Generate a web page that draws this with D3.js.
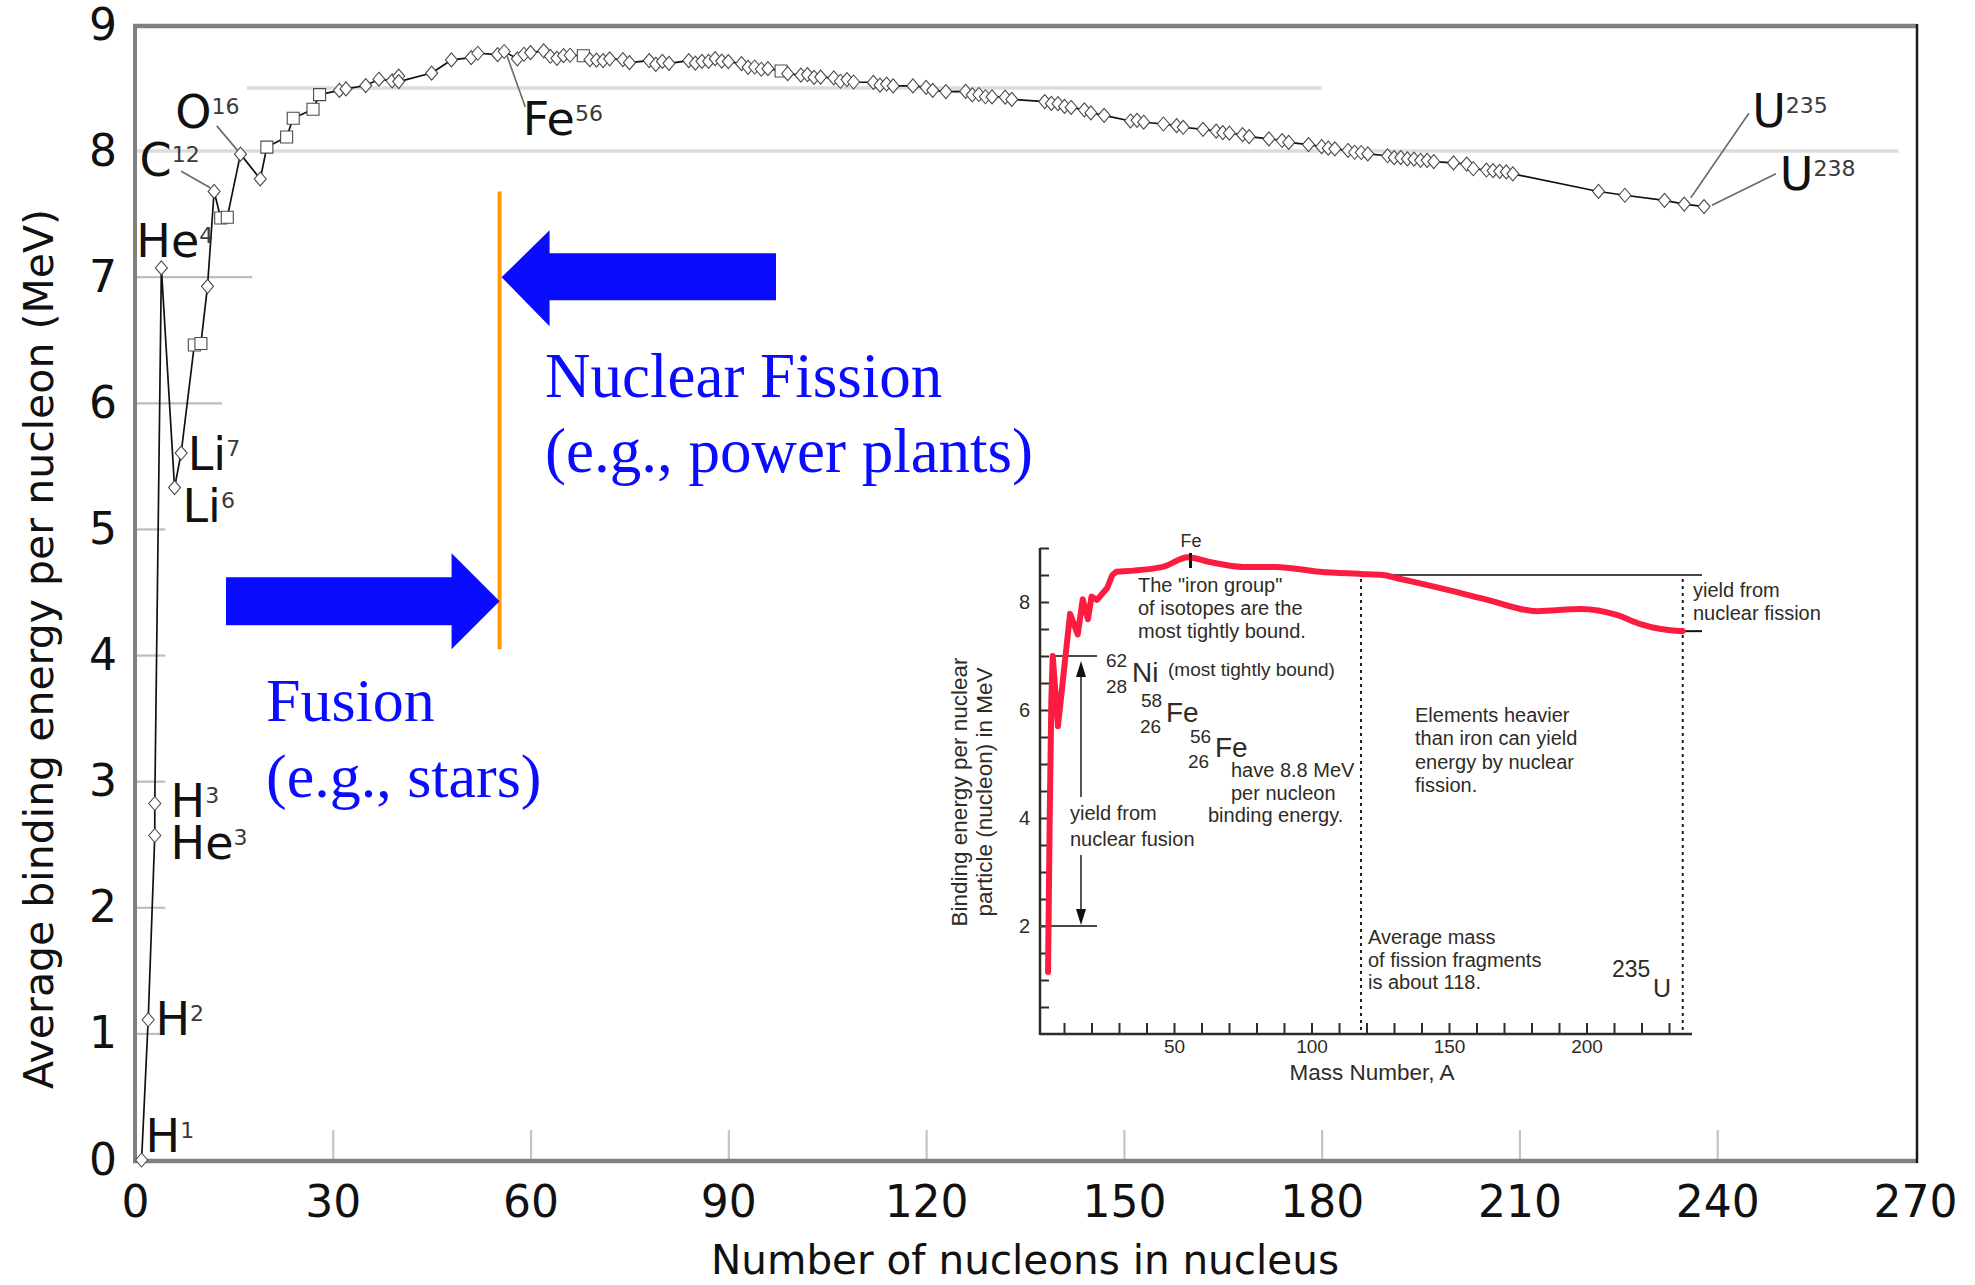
<!DOCTYPE html>
<html>
<head>
<meta charset="utf-8">
<script src="https://cdn.jsdelivr.net/npm/d3@7"></script>
<style>
  html, body { margin: 0; padding: 0; background: #fff; }
  svg { display: block; }
</style>
</head>
<body>
<div id="chart"></div>
<script>
// ── Isotopes: [mass number A, average binding energy per nucleon (MeV)] ──
const isotopes = [
  [1, 0.000], [2, 1.112], [3, 2.573], [3, 2.827], [4, 7.074], [6, 5.332], [7, 5.606],
  [9, 6.463], [10, 6.475], [11, 6.928], [12, 7.680], [13, 7.470], [14, 7.476], [16, 7.976],
  [19, 7.779], [20, 8.032], [23, 8.112], [24, 8.261], [27, 8.332], [28, 8.448], [31, 8.481],
  [32, 8.493], [35, 8.520], [37, 8.570], [39, 8.557], [40, 8.595], [40, 8.551], [45, 8.619],
  [48, 8.723], [51, 8.742], [52, 8.776], [55, 8.765], [56, 8.790], [58, 8.732], [59, 8.768],
  [60, 8.781], [62, 8.795], [63, 8.752], [64, 8.736], [65, 8.757], [66, 8.760], [68, 8.756],
  [69, 8.725], [70, 8.722], [71, 8.718], [72, 8.732], [74, 8.725], [75, 8.701], [78, 8.718],
  [79, 8.688], [80, 8.711], [81, 8.696], [84, 8.717], [85, 8.697], [86, 8.712], [87, 8.711],
  [88, 8.733], [89, 8.714], [90, 8.710], [92, 8.693], [93, 8.664], [94, 8.667], [95, 8.649],
  [96, 8.654], [98, 8.635], [99, 8.614], [101, 8.602], [102, 8.607], [103, 8.584], [104, 8.587],
  [106, 8.580], [107, 8.554], [108, 8.567], [109, 8.548], [112, 8.545], [113, 8.523], [114, 8.532],
  [115, 8.517], [118, 8.517], [120, 8.505], [121, 8.482], [123, 8.472], [126, 8.473], [127, 8.446],
  [128, 8.449], [129, 8.431], [130, 8.430], [132, 8.428], [133, 8.410], [138, 8.393], [139, 8.378],
  [140, 8.376], [141, 8.354], [142, 8.346], [144, 8.327], [145, 8.303], [147, 8.284], [151, 8.239],
  [152, 8.244], [153, 8.229], [156, 8.215], [158, 8.202], [159, 8.189], [162, 8.173], [164, 8.159],
  [165, 8.147], [166, 8.142], [168, 8.130], [169, 8.115], [172, 8.097], [174, 8.084], [175, 8.069],
  [178, 8.052], [180, 8.035], [181, 8.023], [182, 8.018], [184, 8.005], [185, 7.991], [186, 7.989],
  [187, 7.978], [190, 7.963], [191, 7.948], [192, 7.949], [193, 7.938], [194, 7.936], [195, 7.927],
  [196, 7.927], [197, 7.916], [200, 7.906], [202, 7.897], [203, 7.860], [205, 7.850], [206, 7.845],
  [207, 7.840], [208, 7.835], [209, 7.820], [222, 7.680], [226, 7.650], [232, 7.610], [235, 7.580],
  [238, 7.560]
];

// isotopes drawn with a square marker instead of a diamond
const squareMarkers = [9, 10, 13, 14, 20, 23, 24, 27, 28, 68, 98];

// ── Axes ─────────────────────────────────────────────────────────────────
const xTicks = [0, 30, 60, 90, 120, 150, 180, 210, 240, 270];
const yTicks = [0, 1, 2, 3, 4, 5, 6, 7, 8, 9];
// horizontal grey rules: level, from A, to A
const gridLevels = [1, 2, 3, 4, 5, 6, 7, 8, 8.5];
const gridFrom = [0, 0, 0, 0, 0, 0, 0, 0, 17];
const gridTo = [3.9, 4.6, 4.6, 4.6, 4.6, 13.2, 17.8, 267.5, 180];

// ── Element labels: symbol, mass, text position (A, MeV), leader (A, MeV → A, MeV) ──
const labelSymbol = ["H", "H", "H", "He", "He", "Li", "Li", "C", "O", "Fe", "U", "U"];
const labelMass = ["1", "2", "3", "3", "4", "6", "7", "12", "16", "56", "235", "238"];
const labelAt = [[1.6, 0.06], [3.1, 0.99], [5.4, 2.72], [5.4, 2.39], [0.2, 7.16], [7.2, 5.06],
                 [8.0, 5.47], [0.7, 7.80], [6.1, 8.18], [58.8, 8.13], [245.3, 8.19], [249.5, 7.69]];
const leaders = [
  [[7.0, 7.84], [11.4, 7.71]],
  [[12.4, 8.20], [15.8, 7.99]],
  [[56.4, 8.76], [59.2, 8.35]],
  [[236.0, 7.63], [244.8, 8.30]],
  [[239.2, 7.57], [248.9, 7.82]]
];

// ── Inset (binding energy curve, mass number A) ──────────────────────────
const insetMass = [4.2, 4.8, 5.4, 5.9, 7.8, 12.2, 15, 16.8, 18.7, 20, 22, 25.7, 27.6, 29, 46, 55,
                   63, 75, 87, 103, 118, 126, 132, 145, 164, 182, 198, 211, 219, 227, 235];
const insetBinding = [1.15, 4.0, 6.2, 7.0, 5.7, 7.78, 7.4, 8.05, 7.68, 8.1, 8.04, 8.26, 8.5, 8.56,
                      8.65, 8.83, 8.74, 8.65, 8.65, 8.56, 8.52, 8.5, 8.43, 8.28, 8.04, 7.83, 7.87,
                      7.76, 7.6, 7.5, 7.46];
const insetXTicks = d3.range(10, 231, 10);
const insetYTicks = d3.range(0.5, 9.01, 0.5);

// ── Canvas ───────────────────────────────────────────────────────────────
const width = 1975;
const height = 1285;
const SANS = "'DejaVu Sans', sans-serif";
const HELV = "'Liberation Sans', Arial, sans-serif";
const SERIF = "'Liberation Serif', 'Times New Roman', serif";
const BLUE = "#0a0cff";

const svg = d3.select("#chart")
  .append("svg")
  .attr("width", width)
  .attr("height", height)
  .attr("viewBox", [0, 0, width, height]);

const x = d3.scaleLinear().domain([0, 270]).range([135, 1915]);
const y = d3.scaleLinear().domain([0, 9]).range([1160, 25]);

// ── Grey rules ───────────────────────────────────────────────────────────
svg.append("g")
  .selectAll("line")
  .data(gridLevels)
  .join("line")
  .attr("x1", (d, i) => x(gridFrom[i]))
  .attr("x2", (d, i) => x(gridTo[i]))
  .attr("y1", d => y(d))
  .attr("y2", d => y(d))
  .attr("stroke", d => d >= 8 ? "#dcdcdc" : "#bdbdbd")
  .attr("stroke-width", d => d >= 8 ? 3.5 : 2.2);

// ── x axis ───────────────────────────────────────────────────────────────
const gx = svg.append("g")
  .attr("transform", `translate(0,${y(0)})`)
  .call(d3.axisBottom(x).tickValues(xTicks).tickSize(-30).tickPadding(26).tickSizeOuter(0));
gx.select(".domain").remove();
gx.selectAll(".tick line")
  .attr("stroke", "#c4c4c4")
  .attr("stroke-width", 2.2)
  .attr("opacity", d => (d === 0 || d === 270) ? 0 : 1);
gx.selectAll(".tick text")
  .attr("font-family", SANS)
  .attr("font-size", 44)
  .attr("fill", "#111");

// ── y axis ───────────────────────────────────────────────────────────────
const gy = svg.append("g")
  .attr("transform", `translate(${x(0)},0)`)
  .call(d3.axisLeft(y).tickValues(yTicks).tickSize(0).tickPadding(18));
gy.select(".domain").remove();
gy.selectAll(".tick text")
  .attr("font-family", SANS)
  .attr("font-size", 44)
  .attr("fill", "#111");

// ── Frame ────────────────────────────────────────────────────────────────
const frame = svg.append("g");
frame.append("line")
  .attr("x1", x(0)).attr("x2", x(0)).attr("y1", y(9)).attr("y2", y(0) + 2)
  .attr("stroke", "#808080").attr("stroke-width", 4);
frame.append("line")
  .attr("x1", x(0) - 2).attr("x2", x(270) + 2).attr("y1", y(9) + 1).attr("y2", y(9) + 1)
  .attr("stroke", "#808080").attr("stroke-width", 4.5);
frame.append("line")
  .attr("x1", x(0) - 2).attr("x2", x(270) + 2).attr("y1", y(0) + 1).attr("y2", y(0) + 1)
  .attr("stroke", "#808080").attr("stroke-width", 4.5);
frame.append("line")
  .attr("x1", x(270) + 2).attr("x2", x(270) + 2).attr("y1", y(9) - 1).attr("y2", y(0) + 3)
  .attr("stroke", "#1a1a1a").attr("stroke-width", 2.5);

// ── Axis titles ──────────────────────────────────────────────────────────
svg.append("text")
  .attr("x", 1025)
  .attr("y", 1274)
  .attr("text-anchor", "middle")
  .attr("font-family", SANS)
  .attr("font-size", 40.5)
  .attr("fill", "#111")
  .text("Number of nucleons in nucleus");

svg.append("text")
  .attr("transform", "translate(53,649) rotate(-90)")
  .attr("text-anchor", "middle")
  .attr("font-family", SANS)
  .attr("font-size", 41)
  .attr("fill", "#111")
  .text("Average binding energy per nucleon (MeV)");

// ── Leader lines ─────────────────────────────────────────────────────────
svg.append("g")
  .selectAll("line")
  .data(leaders)
  .join("line")
  .attr("x1", d => x(d[0][0]))
  .attr("y1", d => y(d[0][1]))
  .attr("x2", d => x(d[1][0]))
  .attr("y2", d => y(d[1][1]))
  .attr("stroke", "#6a6a6a")
  .attr("stroke-width", 1.6);

// ── Curve + markers ──────────────────────────────────────────────────────
const line = d3.line()
  .x(d => x(d[0]))
  .y(d => y(d[1]));

svg.append("path")
  .datum(isotopes)
  .attr("d", line)
  .attr("fill", "none")
  .attr("stroke", "#111")
  .attr("stroke-width", 1.7)
  .attr("stroke-linejoin", "round");

const diamond = "M0,-7L6,0L0,7L-6,0Z";
const square = "M-6,-6H6V6H-6Z";

svg.append("g")
  .selectAll("path")
  .data(isotopes)
  .join("path")
  .attr("transform", d => `translate(${x(d[0])},${y(d[1])})`)
  .attr("d", d => squareMarkers.includes(d[0]) ? square : diamond)
  .attr("fill", "#fff")
  .attr("stroke", "#4a4a4a")
  .attr("stroke-width", 1.1);

// ── Element labels ───────────────────────────────────────────────────────
const labels = svg.append("g")
  .selectAll("text")
  .data(labelSymbol)
  .join("text")
  .attr("x", (d, i) => x(labelAt[i][0]))
  .attr("y", (d, i) => y(labelAt[i][1]))
  .attr("font-family", SANS)
  .attr("font-size", 46)
  .attr("fill", "#111");

labels.append("tspan").text(d => d);
labels.append("tspan")
  .attr("dx", 0)
  .attr("dy", -14)
  .attr("font-size", 22)
  .attr("fill", "#3a3a3a")
  .text((d, i) => labelMass[i]);

// ── Fusion / fission arrows ──────────────────────────────────────────────
const boundaryA = 55.3;
const bx = x(boundaryA);

svg.append("line")
  .attr("x1", bx).attr("x2", bx)
  .attr("y1", y(7.68)).attr("y2", y(4.05))
  .attr("stroke", "#ff9900")
  .attr("stroke-width", 4);

// fission arrow, pointing left to the boundary
const fy = y(7.0);
svg.append("path")
  .attr("d", `M${bx + 2},${fy} L${bx + 50},${fy - 47} L${bx + 50},${fy - 24} L776,${fy - 24}
              L776,${fy + 23} L${bx + 50},${fy + 23} L${bx + 50},${fy + 49} Z`)
  .attr("fill", BLUE);

// fusion arrow, pointing right to the boundary
const uy = y(4.43);
svg.append("path")
  .attr("d", `M226,${uy - 24} L${bx - 48},${uy - 24} L${bx - 48},${uy - 48} L${bx},${uy}
              L${bx - 48},${uy + 48} L${bx - 48},${uy + 24} L226,${uy + 24} Z`)
  .attr("fill", BLUE);

const blueText = [
  ["Nuclear Fission", 545, 397, 63],
  ["(e.g., power plants)", 545, 472, 63],
  ["Fusion", 266, 721, 62],
  ["(e.g., stars)", 266, 797, 62]
];
svg.append("g")
  .selectAll("text")
  .data(blueText)
  .join("text")
  .attr("x", d => d[1])
  .attr("y", d => d[2])
  .attr("font-family", SERIF)
  .attr("font-size", d => d[3])
  .attr("fill", BLUE)
  .text(d => d[0]);

// ── Inset ────────────────────────────────────────────────────────────────
const ix = d3.scaleLinear().domain([0, 240]).range([1036.5, 1696.5]);
const iy = d3.scaleLinear().domain([0, 9]).range([1034, 548]);
const INK = "#2f2b25";
const inset = svg.append("g");

// x axis of inset
const igx = inset.append("g")
  .attr("transform", `translate(0,${iy(0)})`)
  .call(d3.axisBottom(ix).tickValues(insetXTicks).tickSize(-11).tickPadding(6)
    .tickFormat(d => d % 50 === 0 ? d : ""));
igx.select(".domain").remove();
igx.selectAll(".tick line").attr("stroke", INK).attr("stroke-width", 2);
igx.selectAll(".tick text").attr("font-family", HELV).attr("font-size", 19).attr("fill", INK);

// y axis of inset
const igy = inset.append("g")
  .attr("transform", "translate(1040,0)")
  .call(d3.axisLeft(iy).tickValues(insetYTicks).tickSize(-9).tickPadding(10)
    .tickFormat(d => d % 2 === 0 ? d : ""));
igy.select(".domain").remove();
igy.selectAll(".tick line").attr("stroke", INK).attr("stroke-width", 2);
igy.selectAll(".tick text").attr("font-family", HELV).attr("font-size", 20).attr("fill", INK);

inset.append("line")
  .attr("x1", 1040).attr("x2", 1692).attr("y1", iy(0)).attr("y2", iy(0))
  .attr("stroke", INK).attr("stroke-width", 2.5);
inset.append("line")
  .attr("x1", 1040).attr("x2", 1040).attr("y1", iy(9)).attr("y2", iy(0) + 1)
  .attr("stroke", INK).attr("stroke-width", 2.5);

// guide lines
const guides = [
  [1052, iy(7.0), 1097, iy(7.0)],
  [1040, iy(2.0), 1097, iy(2.0)],
  [ix(126), iy(8.5), 1702, iy(8.5)]
];
inset.append("g")
  .selectAll("line")
  .data(guides)
  .join("line")
  .attr("x1", d => d[0]).attr("y1", d => d[1])
  .attr("x2", d => d[2]).attr("y2", d => d[3])
  .attr("stroke", "#4d483d")
  .attr("stroke-width", 2);

inset.append("line")
  .attr("x1", ix(235)).attr("x2", 1702).attr("y1", iy(7.46)).attr("y2", iy(7.46))
  .attr("stroke", "#111").attr("stroke-width", 2);

// dotted verticals at A = 118 and A = 235
inset.append("g")
  .selectAll("line")
  .data([118, 235])
  .join("line")
  .attr("x1", d => ix(d)).attr("x2", d => ix(d))
  .attr("y1", 579).attr("y2", iy(0))
  .attr("stroke", "#222")
  .attr("stroke-width", 2)
  .attr("stroke-dasharray", "3,4");

// fusion yield double arrow
const ax = 1081;
inset.append("line").attr("x1", ax).attr("x2", ax).attr("y1", 672).attr("y2", 797)
  .attr("stroke", "#5a5547").attr("stroke-width", 2);
inset.append("line").attr("x1", ax).attr("x2", ax).attr("y1", 855).attr("y2", 914)
  .attr("stroke", "#5a5547").attr("stroke-width", 2);
inset.append("path").attr("d", `M${ax},661 L${ax - 5},677 L${ax + 5},677 Z`).attr("fill", "#111");
inset.append("path").attr("d", `M${ax},925 L${ax - 5},909 L${ax + 5},909 Z`).attr("fill", "#111");

// red binding-energy curve: jagged for light nuclei, smooth beyond A = 29
const splitAt = insetMass.indexOf(29);
const insetPoints = insetMass.map((a, i) => [ix(a), iy(insetBinding[i])]);
const jagged = d3.line()(insetPoints.slice(0, splitAt + 1));
const smooth = d3.line().curve(d3.curveMonotoneX)(insetPoints.slice(splitAt));

inset.append("path")
  .attr("d", jagged + smooth.replace(/^M/, "L"))
  .attr("fill", "none")
  .attr("stroke", "#fc1c40")
  .attr("stroke-width", 6)
  .attr("stroke-linejoin", "round")
  .attr("stroke-linecap", "round");

// Fe peak tick
inset.append("line")
  .attr("x1", ix(56)).attr("x2", ix(56)).attr("y1", 553).attr("y2", 568)
  .attr("stroke", "#111").attr("stroke-width", 3);

// inset text
const insetText = [
  ["Fe", 1191, 547, 18, "middle"],
  ["The \"iron group\"", 1138, 592, 20],
  ["of isotopes are the", 1138, 615, 20],
  ["most tightly bound.", 1138, 638, 20],
  ["62", 1106, 667, 19],
  ["28", 1106, 693, 19],
  ["Ni", 1132, 682, 28],
  ["(most tightly bound)", 1168, 676, 19],
  ["58", 1141, 707, 19],
  ["26", 1140, 733, 19],
  ["Fe", 1166, 722, 28],
  ["56", 1190, 743, 19],
  ["26", 1188, 768, 19],
  ["Fe", 1215, 757, 28],
  ["have 8.8 MeV", 1231, 777, 20],
  ["per nucleon", 1231, 800, 20],
  ["binding energy.", 1208, 822, 20],
  ["yield from", 1070, 820, 20],
  ["nuclear fusion", 1070, 846, 20],
  ["Elements heavier", 1415, 722, 20],
  ["than iron can yield", 1415, 745, 20],
  ["energy by nuclear", 1415, 769, 20],
  ["fission.", 1415, 792, 20],
  ["Average mass", 1368, 944, 20],
  ["of fission fragments", 1368, 967, 20],
  ["is about 118.", 1368, 989, 20],
  ["yield from", 1693, 597, 20],
  ["nuclear fission", 1693, 620, 20],
  ["235", 1612, 977, 23],
  ["U", 1653, 997, 25],
  ["Mass Number, A", 1372, 1080, 22.5, "middle"]
];
inset.append("g")
  .selectAll("text")
  .data(insetText)
  .join("text")
  .attr("x", d => d[1])
  .attr("y", d => d[2])
  .attr("font-size", d => d[3])
  .attr("text-anchor", d => d[4] || "start")
  .attr("font-family", HELV)
  .attr("fill", INK)
  .text(d => d[0]);

inset.append("text")
  .attr("transform", "translate(967,792) rotate(-90)")
  .attr("text-anchor", "middle")
  .attr("font-family", HELV)
  .attr("font-size", 22.5)
  .attr("fill", INK)
  .text("Binding energy per nuclear");
inset.append("text")
  .attr("transform", "translate(992,792) rotate(-90)")
  .attr("text-anchor", "middle")
  .attr("font-family", HELV)
  .attr("font-size", 22.5)
  .attr("fill", INK)
  .text("particle (nucleon) in MeV");
</script>
</body>
</html>
